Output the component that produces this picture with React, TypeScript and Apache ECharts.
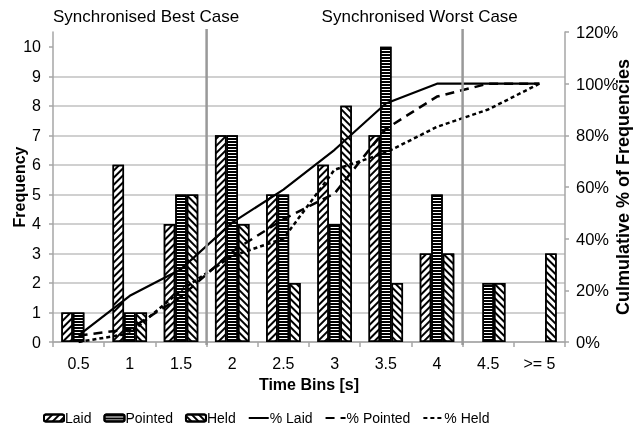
import React, { useEffect, useRef } from 'react';
import * as echarts from 'echarts';

const categories = ['0.5', '1', '1.5', '2', '2.5', '3', '3.5', '4', '4.5', '>= 5'];
const laid = [1, 6, 4, 7, 5, 6, 7, 3, 0, 0];
const pointed = [1, 1, 5, 7, 5, 4, 10, 5, 2, 0];
const held = [0, 1, 5, 4, 2, 8, 2, 3, 2, 3];
const pctLaid = [2.6, 17.9, 28.2, 46.2, 59.0, 74.4, 92.3, 100, 100, 100];
const pctPointed = [2.5, 5.0, 17.5, 35.0, 47.5, 57.5, 82.5, 95.0, 100, 100];
const pctHeld = [0, 3.3, 20.0, 33.3, 40.0, 66.7, 73.3, 83.3, 90.0, 100];
const freqTicks = [0, 1, 2, 3, 4, 5, 6, 7, 8, 9, 10];
const regionLabels = ['Synchronised Best Case', 'Synchronised Worst Case'];
const separatorPairs = [['1.5', '2'], ['4', '4.5']];

const FONT = 'Liberation Sans';

export default function App() {
  const ref = useRef<HTMLDivElement>(null);
  useEffect(() => {
    const chart = echarts.init(ref.current!, null, { renderer: 'svg' });
    const nz = (arr: number[]) => arr.map((v) => (v === 0 ? null : v));
    const barBase = {
      type: 'bar',
      barWidth: 11.5,
      barGap: '0%',
      yAxisIndex: 0,
    };
    const barStyle = (decal: any) => ({
      color: '#fff',
      borderColor: '#000',
      borderWidth: 1.5,
      decal: { symbol: 'rect', symbolSize: 1, color: '#000', dashArrayX: [1, 0], ...decal },
    });
    const lineBase = { type: 'line', yAxisIndex: 1, symbol: 'none', showSymbol: false };
    const hiddenSym = { opacity: 0 };
    chart.setOption({
      animation: false,
      textStyle: { fontFamily: FONT },
      grid: { left: 53, right: 77, top: 32, bottom: 90, outerBoundsMode: 'none', containLabel: false },
      legend: {
        left: 43,
        top: 411,
        padding: 0,
        itemWidth: 20,
        itemHeight: 7,
        itemGap: 12,
        textStyle: { fontSize: 14, color: '#000', fontFamily: FONT, padding: [0, 0, 0, -4] },
        data: [
          'Laid',
          'Pointed',
          'Held',
          { name: '% Laid', itemStyle: hiddenSym },
          { name: '% Pointed', itemStyle: hiddenSym },
          { name: '% Held', itemStyle: hiddenSym },
        ],
      },
      xAxis: {
        type: 'category',
        data: categories,
        name: 'Time Bins [s]',
        nameLocation: 'middle',
        nameGap: 34,
        nameMoveOverlap: false,
        nameTextStyle: { fontWeight: 'bold', fontSize: 16, color: '#000', fontFamily: FONT },
        axisLine: { lineStyle: { color: '#a6a6a6', width: 1.5 } },
        axisTick: { show: true, interval: 0, length: 5, lineStyle: { color: '#a6a6a6', width: 1.5 } },
        axisLabel: { fontSize: 16, color: '#000', margin: 13, interval: 0 },
      },
      yAxis: [
        {
          type: 'value',
          min: 0,
          max: 10.5,
          interval: 1,
          name: 'Frequency',
          nameLocation: 'middle',
          nameRotate: 90,
          nameGap: 26,
          nameMoveOverlap: false,
          nameTextStyle: { fontWeight: 'bold', fontSize: 16, color: '#000', fontFamily: FONT },
          axisLine: { show: true, lineStyle: { color: '#a6a6a6', width: 1.5 } },
          axisTick: { show: true, length: 4, customValues: freqTicks, lineStyle: { color: '#a6a6a6', width: 1.5 } },
          axisLabel: {
            fontSize: 16,
            color: '#000',
            margin: 12,
            customValues: freqTicks,
          },
          splitLine: { show: true, showMaxLine: false, lineStyle: { color: '#c0c0c0', width: 1.5 } },
        },
        {
          type: 'value',
          min: 0,
          max: 120,
          interval: 20,
          position: 'right',
          name: 'Culmulative % of Frequencies',
          nameLocation: 'middle',
          nameRotate: 90,
          nameGap: 49,
          nameMoveOverlap: false,
          nameTextStyle: { fontWeight: 'bold', fontSize: 18, color: '#000', fontFamily: FONT },
          axisLine: { show: true, lineStyle: { color: '#a6a6a6', width: 1.5 } },
          axisTick: { show: true, length: 4, lineStyle: { color: '#a6a6a6', width: 1.5 } },
          axisLabel: { fontSize: 16.5, color: '#000', margin: 11, formatter: '{value}%' },
          splitLine: { show: false },
        },
      ],
      series: [
        { ...barBase, name: 'Laid', data: nz(laid), itemStyle: barStyle({ dashArrayY: [2, 3], rotation: -Math.PI / 4 }) },
        { ...barBase, name: 'Pointed', data: nz(pointed), itemStyle: barStyle({ dashArrayY: [2, 1], rotation: 0 }) },
        { ...barBase, name: 'Held', data: nz(held), itemStyle: barStyle({ dashArrayY: [2, 3], rotation: Math.PI / 4 }) },
        { ...lineBase, name: '% Laid', data: pctLaid, lineStyle: { color: '#000', width: 2.2, type: 'solid' }, itemStyle: { color: '#000' } },
        { ...lineBase, name: '% Pointed', data: pctPointed, lineStyle: { color: '#000', width: 2.5, type: [9, 6] }, itemStyle: { color: '#000' } },
        { ...lineBase, name: '% Held', data: pctHeld, lineStyle: { color: '#000', width: 2.5, type: [4, 3] }, itemStyle: { color: '#000' } },
      ],
    });

    const yTop = chart.convertToPixel({ yAxisIndex: 0 }, 10.5) as number;
    const yBot = chart.convertToPixel({ yAxisIndex: 0 }, 0) as number;
    const sepX = separatorPairs.map(([a, b]) => {
      const pa = chart.convertToPixel({ xAxisIndex: 0 }, a) as number;
      const pb = chart.convertToPixel({ xAxisIndex: 0 }, b) as number;
      return (pa + pb) / 2;
    });
    const band = (chart.convertToPixel({ xAxisIndex: 0 }, categories[1]) as number) -
      (chart.convertToPixel({ xAxisIndex: 0 }, categories[0]) as number);
    const firstCenter = chart.convertToPixel({ xAxisIndex: 0 }, categories[0]) as number;
    const labelX = [firstCenter - band / 2, sepX[0] + 115];

    chart.setOption({
      graphic: [
        ...sepX.map((x) => ({
          type: 'line',
          shape: { x1: x, y1: yTop - 3, x2: x, y2: yBot + 3 },
          style: { stroke: '#999999', lineWidth: 2.5 },
          z: 50,
        })),
        ...regionLabels.map((t, i) => ({
          type: 'text',
          x: labelX[i],
          y: 16,
          style: { text: t, font: '17px "Liberation Sans"', fontSize: 17, fontFamily: FONT, fill: '#000', verticalAlign: 'middle', align: 'left' },
        })),
      ],
    });

    return () => chart.dispose();
  }, []);
  return <div ref={ref} style={{ position: 'fixed', left: 0, top: 0, width: 642, height: 432 }} />;
}
